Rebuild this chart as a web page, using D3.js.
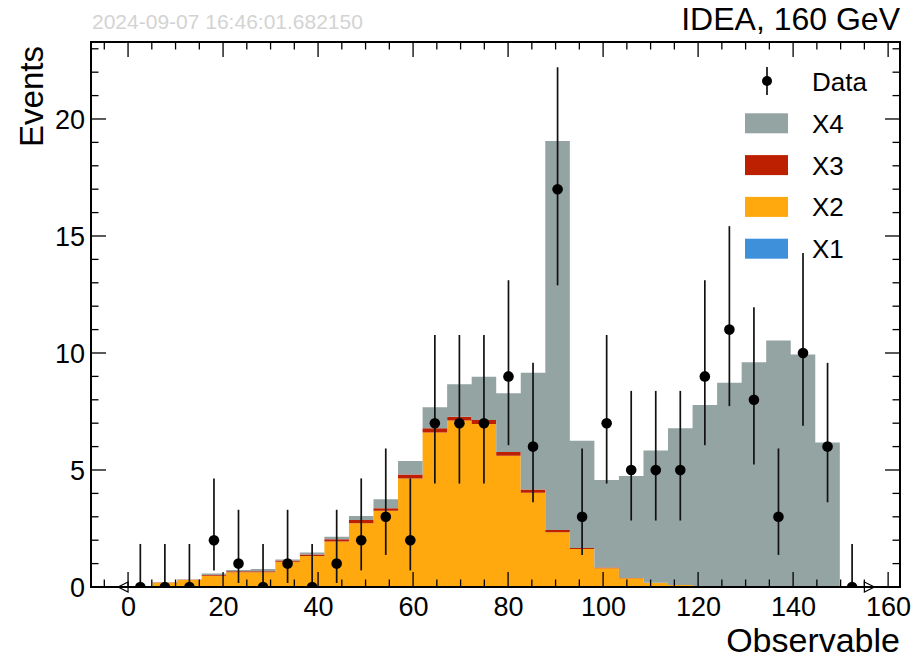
<!DOCTYPE html>
<html><head><meta charset="utf-8">
<script src="https://cdn.jsdelivr.net/npm/d3@7"></script>
<style>body{margin:0;background:#fff}</style>
</head><body><svg id="c" width="924" height="660"></svg>
<script>
// ---- data ----
const nBins = 30, xLow = 0, xHigh = 155;
const seriesNames = ["X1", "X2", "X3", "X4"];
const seriesColors = ["#3f90da", "#ffa90e", "#bd1f01", "#94a4a2"];
const x1 = [0,0,0,0,0,0,0,0,0,0,0,0,0,0,0,0,0,0,0,0,0,0,0,0,0,0,0,0,0,0];
const x2 = [0.03,0.18,0.30,0.48,0.63,0.63,1.08,1.32,1.94,2.72,3.26,4.64,6.60,7.11,6.97,5.61,4.03,2.34,1.62,0.80,0.37,0.18,0.09,0.03,0.01,0,0,0,0,0];
const x3 = [0,0.01,0.01,0.03,0.04,0.04,0.05,0.07,0.10,0.14,0.10,0.17,0.18,0.17,0.17,0.16,0.14,0.10,0.05,0.03,0.01,0,0,0,0,0,0,0,0,0];
const x4 = [0,0.01,0.01,0.07,0.06,0.10,0.05,0.08,0.11,0.17,0.39,0.57,0.90,1.38,1.85,2.51,4.99,16.62,4.58,3.74,4.36,5.65,6.69,7.75,8.72,9.60,10.53,9.94,6.17,0];
const dataCounts = [0,0,0,2,1,0,1,0,1,2,3,2,7,7,7,9,6,17,3,7,5,5,5,9,11,8,3,10,6,0];
const errLow  = [0,0,0,0.71,0.17,0,0.17,0,0.17,0.71,1.37,0.71,4.42,4.42,4.42,6.06,3.62,12.89,1.37,4.42,2.84,2.84,2.84,6.06,7.73,5.23,1.37,6.89,3.62,0];
const errHigh = [1.84,1.84,1.84,4.64,3.30,1.84,3.30,1.84,3.30,4.64,5.92,4.64,10.77,10.77,10.77,13.11,9.58,22.21,5.92,10.77,8.38,8.38,8.38,13.11,15.42,11.95,5.92,14.27,9.58,1.84];
const xTickValues = [0,20,40,60,80,100,120,140,160];
const yTickValues = [0,5,10,15,20];
const titleText = "IDEA, 160 GeV";
const stampText = "2024-09-07 16:46:01.682150";

// ---- layout ----
const L = 91, R = 900, T = 42, B = 587;
const font = "'Liberation Sans', Arial, Helvetica, sans-serif";
const svg = d3.select("#c");
const x = d3.scaleLinear().domain([-7.8, 162.5]).range([L, R]);
const y = d3.scaleLinear().domain([0, 23.29]).range([B, T]);
const bw = (xHigh - xLow) / nBins;

const rows = d3.range(nBins).map(i => ({x0: xLow + i * bw, X1: x1[i], X2: x2[i], X3: x3[i], X4: x4[i]}));
const rowsExt = rows.concat([Object.assign({}, rows[nBins - 1], {x0: xHigh})]);
const stack = d3.stack().keys(seriesNames)(rowsExt);

svg.append("defs").append("clipPath").attr("id", "clip")
  .append("rect").attr("x", L).attr("y", T).attr("width", R - L).attr("height", B - T);
const g = svg.append("g").attr("clip-path", "url(#clip)");

const area = d3.area().curve(d3.curveStepAfter)
  .x(d => x(d.data.x0)).y0(d => y(d[0])).y1(d => y(d[1]));
g.selectAll("path.layer").data(stack).join("path")
  .attr("class", "layer")
  .attr("fill", (d, i) => seriesColors[i])
  .attr("d", area);

// data points
const centers = d3.range(nBins).map(i => xLow + (i + 0.5) * bw);
g.selectAll("line.err").data(centers).join("line")
  .attr("x1", d => x(d)).attr("x2", d => x(d))
  .attr("y1", (d, i) => y(errLow[i])).attr("y2", (d, i) => y(errHigh[i]))
  .attr("stroke", "#111").attr("stroke-width", 1.7);
g.selectAll("circle.pt").data(centers).join("circle")
  .attr("cx", d => x(d)).attr("cy", (d, i) => y(dataCounts[i])).attr("r", 5.3)
  .attr("fill", "#000");

// flow triangles
svg.append("path")
  .attr("d", `M${x(xLow)},${B - 5}L${x(xLow) - 10},${B}L${x(xLow)},${B + 5}Z`)
  .attr("fill", "#fff").attr("stroke", "#000").attr("stroke-width", 1.2);
svg.append("path")
  .attr("d", `M${x(xHigh)},${B - 5}L${x(xHigh) + 10},${B}L${x(xHigh)},${B + 5}Z`)
  .attr("fill", "#fff").attr("stroke", "#000").attr("stroke-width", 1.2);

// ticks
const tk = svg.append("g").attr("stroke", "#000").attr("stroke-width", 1.3);
const xMinor = d3.range(-5, 163, 5);
xMinor.forEach(v => {
  const major = v % 20 === 0;
  const len = major ? 15 : 7.5;
  tk.append("line").attr("x1", x(v)).attr("x2", x(v)).attr("y1", B).attr("y2", B - len);
  tk.append("line").attr("x1", x(v)).attr("x2", x(v)).attr("y1", T).attr("y2", T + len);
});
d3.range(0, 24, 1).forEach(v => {
  const major = v % 5 === 0;
  const len = major ? 15 : 7.5;
  tk.append("line").attr("y1", y(v)).attr("y2", y(v)).attr("x1", L).attr("x2", L + len);
  tk.append("line").attr("y1", y(v)).attr("y2", y(v)).attr("x1", R).attr("x2", R - len);
});

// frame
svg.append("rect").attr("x", L).attr("y", T).attr("width", R - L).attr("height", B - T)
  .attr("fill", "none").attr("stroke", "#000").attr("stroke-width", 2);

// tick labels via axes
const xAxis = svg.append("g").attr("transform", `translate(0,${B})`)
  .call(d3.axisBottom(x).tickValues(xTickValues).tickSize(0).tickPadding(10).tickFormat(d3.format("d")));
xAxis.select(".domain").remove();
xAxis.selectAll("text").attr("font-family", font).attr("font-size", 27).attr("fill", "#000").attr("dy", "0.71em");
const yAxis = svg.append("g").attr("transform", `translate(${L},0)`)
  .call(d3.axisLeft(y).tickValues(yTickValues).tickSize(0).tickPadding(6).tickFormat(d3.format("d")));
yAxis.select(".domain").remove();
yAxis.selectAll("text").attr("font-family", font).attr("font-size", 27).attr("fill", "#000").attr("dy", "0.36em");

// labels
svg.append("text").attr("x", R).attr("y", 652).attr("text-anchor", "end")
  .attr("font-family", font).attr("font-size", 34).text("Observable");
svg.append("text").attr("transform", `translate(43,${T + 4}) rotate(-90)`).attr("text-anchor", "end")
  .attr("font-family", font).attr("font-size", 33).text("Events");
svg.append("text").attr("x", R).attr("y", 29.5).attr("text-anchor", "end")
  .attr("font-family", font).attr("font-size", 32).text(titleText);
svg.append("text").attr("x", L + 1).attr("y", 29).attr("text-anchor", "start")
  .attr("font-family", font).attr("font-size", 21).attr("fill", "#d3d3d3").text(stampText);

// legend
const lg = svg.append("g");
const legX = 745, legTextX = 812, legY0 = 91, legDy = 41.8;
lg.append("line").attr("x1", 767).attr("x2", 767).attr("y1", legY0 - 24).attr("y2", legY0 + 4)
  .attr("stroke", "#111").attr("stroke-width", 1.7);
lg.append("circle").attr("cx", 767).attr("cy", legY0 - 10).attr("r", 5).attr("fill", "#000");
lg.append("text").attr("x", legTextX).attr("y", legY0).attr("font-family", font).attr("font-size", 26).text("Data");
const legOrder = [3, 2, 1, 0];
legOrder.forEach((si, k) => {
  const by = legY0 + (k + 1) * legDy;
  lg.append("rect").attr("x", legX).attr("y", by - 19.5).attr("width", 43).attr("height", 20)
    .attr("fill", seriesColors[si]);
  lg.append("text").attr("x", legTextX).attr("y", by).attr("font-family", font).attr("font-size", 26)
    .text(seriesNames[si]);
});
</script></body></html>
